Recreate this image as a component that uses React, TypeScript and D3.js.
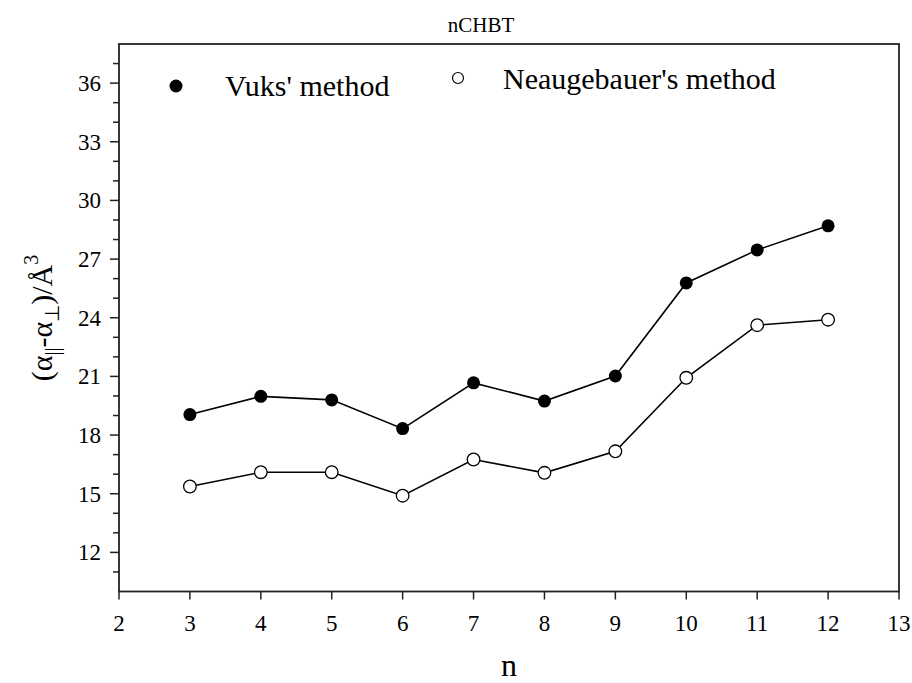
import React from "react";
import * as d3 from "d3";

const nValues = [3, 4, 5, 6, 7, 8, 9, 10, 11, 12];
const vuks = [19.05, 19.98, 19.8, 18.33, 20.67, 19.74, 21.02, 25.78, 27.47, 28.7];
const neaugebauer = [15.37, 16.1, 16.1, 14.9, 16.75, 16.07, 17.17, 20.93, 23.62, 23.9];
const xTicks = [2, 3, 4, 5, 6, 7, 8, 9, 10, 11, 12, 13];
const yMajorTicks = [12, 15, 18, 21, 24, 27, 30, 33, 36];
const yMinorTicks = [11, 13, 14, 16, 17, 19, 20, 22, 23, 25, 26, 28, 29, 31, 32, 34, 35, 37];
const title = "nCHBT";
const legendLabels = ["Vuks' method", "Neaugebauer's method"];

const W = 912;
const H = 683;
const left = 119;
const right = 899;
const top = 44;
const bottom = 591.5;
const font = "'Liberation Serif', 'Times New Roman', serif";
const ts = { fontFamily: font };

export default function App() {
  const x = d3.scaleLinear().domain([2, 13]).range([left, right]);
  const y = d3.scaleLinear().domain([10, 38]).range([bottom, top]);
  const line = d3
    .line<number>()
    .x((_, i) => x(nValues[i]))
    .y((d) => y(d));

  return (
    <svg
      width={W}
      height={H}
      style={{ position: "absolute", left: 0, top: 0, background: "#fff" }}
    >
      <rect x={0} y={0} width={W} height={H} fill="#fff" />
      <text x={481} y={32} style={ts} fontSize={21} textAnchor="middle" fill="#000">
        {title}
      </text>
      <rect
        x={left}
        y={top}
        width={right - left}
        height={bottom - top}
        fill="none"
        stroke="#222"
        strokeWidth={1.8}
      />
      {xTicks.map((t) => (
        <g key={"xt" + t}>
          <line x1={x(t)} x2={x(t)} y1={bottom} y2={bottom + 8} stroke="#222" strokeWidth={1.5} />
          <text x={x(t)} y={631} style={ts} fontSize={23} textAnchor="middle" fill="#000">
            {t}
          </text>
        </g>
      ))}
      {yMajorTicks.map((t) => (
        <g key={"yt" + t}>
          <line x1={left - 9} x2={left} y1={y(t)} y2={y(t)} stroke="#222" strokeWidth={1.5} />
          <text x={101} y={y(t)} dy="0.35em" style={ts} fontSize={23} textAnchor="end" fill="#000">
            {t}
          </text>
        </g>
      ))}
      {yMinorTicks.map((t) => (
        <line key={"ym" + t} x1={left - 6} x2={left} y1={y(t)} y2={y(t)} stroke="#222" strokeWidth={1.5} />
      ))}
      <text x={509} y={676} style={ts} fontSize={32} textAnchor="middle" fill="#000">
        n
      </text>
      <text
        transform="translate(52,318) rotate(-90)"
        style={ts}
        fontSize={30}
        textAnchor="middle"
        fill="#000"
      >
        <tspan>(α</tspan>
        <tspan fontSize={20} dy={7}>||</tspan>
        <tspan dy={-7}>-α</tspan>
        <tspan fontSize={20} dy={7}>⊥</tspan>
        <tspan dy={-7}>)/Å</tspan>
        <tspan fontSize={20} dy={-14}>3</tspan>
      </text>
      <path d={line(vuks) || ""} fill="none" stroke="#000" strokeWidth={1.6} />
      <path d={line(neaugebauer) || ""} fill="none" stroke="#000" strokeWidth={1.6} />
      {vuks.map((v, i) => (
        <circle key={"v" + i} cx={x(nValues[i])} cy={y(v)} r={6.5} fill="#000" />
      ))}
      {neaugebauer.map((v, i) => (
        <circle
          key={"n" + i}
          cx={x(nValues[i])}
          cy={y(v)}
          r={6.3}
          fill="#fff"
          stroke="#000"
          strokeWidth={1.3}
        />
      ))}
      <circle cx={176} cy={86} r={6.5} fill="#000" />
      <text x={225} y={96} style={ts} fontSize={30} fill="#000">
        {legendLabels[0]}
      </text>
      <circle cx={458} cy={78} r={5.5} fill="#fff" stroke="#000" strokeWidth={1.2} />
      <text x={503} y={89} style={ts} fontSize={30} fill="#000">
        {legendLabels[1]}
      </text>
    </svg>
  );
}
